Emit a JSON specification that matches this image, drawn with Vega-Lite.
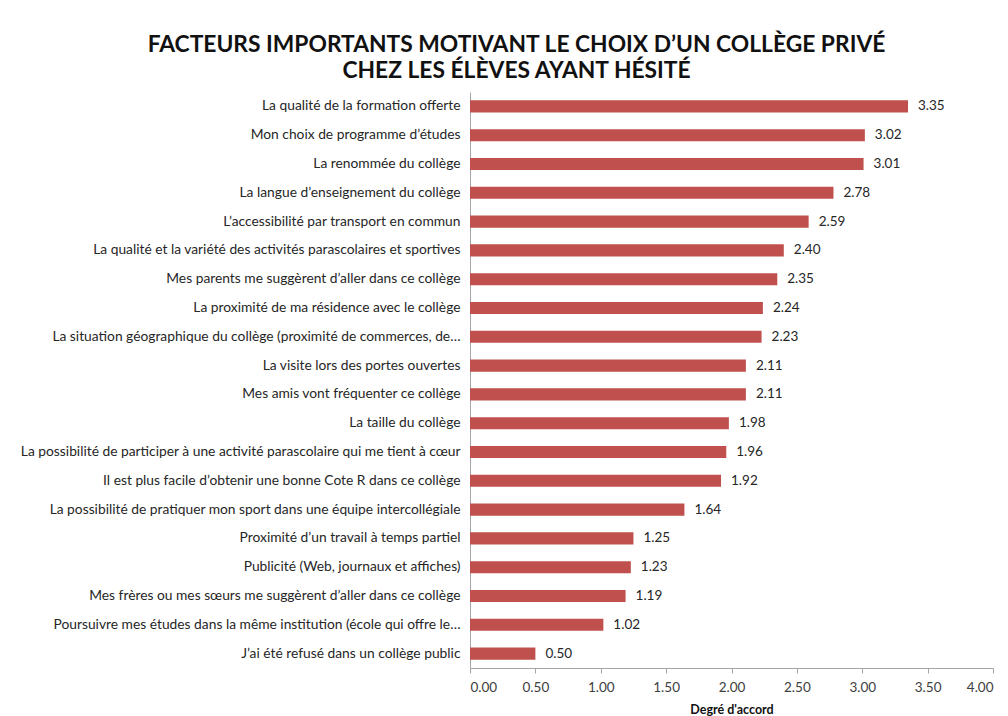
{
  "$schema": "https://vega.github.io/schema/vega-lite/v6.json",
  "width": 523,
  "height": 576,
  "autosize": {"type": "none"},
  "padding": {"left": 470, "top": 92, "right": 15, "bottom": 48},
  "background": "white",
  "title": {
    "text": ["FACTEURS IMPORTANTS MOTIVANT LE CHOIX D’UN COLLÈGE PRIVÉ", "CHEZ LES ÉLÈVES AYANT HÉSITÉ"],
    "font": "Lato",
    "fontSize": 22.8,
    "fontWeight": "bold",
    "color": "#111111",
    "anchor": "middle",
    "frame": "group",
    "dx": -215,
    "offset": 9,
    "lineHeight": 26
  },
  "data": {
    "values": [
      {"facteur": "La qualité de la formation offerte", "valeur": 3.35},
      {"facteur": "Mon choix de programme d’études", "valeur": 3.02},
      {"facteur": "La renommée du collège", "valeur": 3.01},
      {"facteur": "La langue d’enseignement du collège", "valeur": 2.78},
      {"facteur": "L’accessibilité par transport en commun", "valeur": 2.59},
      {"facteur": "La qualité et la variété des activités parascolaires et sportives", "valeur": 2.40},
      {"facteur": "Mes parents me suggèrent d’aller dans ce collège", "valeur": 2.35},
      {"facteur": "La proximité de ma résidence avec le collège", "valeur": 2.24},
      {"facteur": "La situation géographique du collège (proximité de commerces, de…", "valeur": 2.23},
      {"facteur": "La visite lors des portes ouvertes", "valeur": 2.11},
      {"facteur": "Mes  amis vont fréquenter ce collège", "valeur": 2.11},
      {"facteur": "La taille du collège", "valeur": 1.98},
      {"facteur": "La possibilité de participer à une activité parascolaire qui me tient à cœur", "valeur": 1.96},
      {"facteur": "Il est plus facile d’obtenir une bonne Cote R dans ce collège", "valeur": 1.92},
      {"facteur": "La possibilité de pratiquer mon sport dans une équipe intercollégiale", "valeur": 1.64},
      {"facteur": "Proximité d’un travail à temps partiel", "valeur": 1.25},
      {"facteur": "Publicité (Web, journaux et affiches)", "valeur": 1.23},
      {"facteur": "Mes frères ou mes sœurs me suggèrent d’aller dans ce collège", "valeur": 1.19},
      {"facteur": "Poursuivre mes études dans la même institution (école qui offre le…", "valeur": 1.02},
      {"facteur": "J’ai été refusé dans un collège public", "valeur": 0.50}
    ]
  },
  "encoding": {
    "y": {
      "field": "facteur",
      "type": "nominal",
      "sort": null,
      "scale": {"paddingInner": 0.58, "paddingOuter": 0.29},
      "axis": {
        "title": null,
        "ticks": false,
        "domainColor": "#A6A6A6",
        "labelFont": "Lato",
        "labelFontSize": 13.8,
        "labelColor": "#262626",
        "labelPadding": 10,
        "labelLimit": 470
      }
    },
    "x": {
      "field": "valeur",
      "type": "quantitative",
      "scale": {"domain": [0, 4], "nice": false},
      "axis": {
        "title": "Degré d'accord",
        "titleFont": "Lato",
        "titleFontSize": 12.5,
        "titleFontWeight": "bold",
        "titleColor": "#111111",
        "titlePadding": 10,
        "values": [0, 0.5, 1, 1.5, 2, 2.5, 3, 3.5, 4],
        "format": ".2f",
        "grid": false,
        "domainColor": "#A6A6A6",
        "tickColor": "#A6A6A6",
        "tickSize": 5,
        "labelFont": "Lato",
        "labelFontSize": 13.5,
        "labelColor": "#404040",
        "labelPadding": 7
      }
    }
  },
  "layer": [
    {"mark": {"type": "bar", "color": "#C0504D"}},
    {
      "mark": {"type": "text", "align": "left", "dx": 10, "font": "Lato", "fontSize": 13.5, "color": "#262626"},
      "encoding": {"text": {"field": "valeur", "type": "quantitative", "format": ".2f"}}
    }
  ],
  "config": {"view": {"stroke": null}}
}
